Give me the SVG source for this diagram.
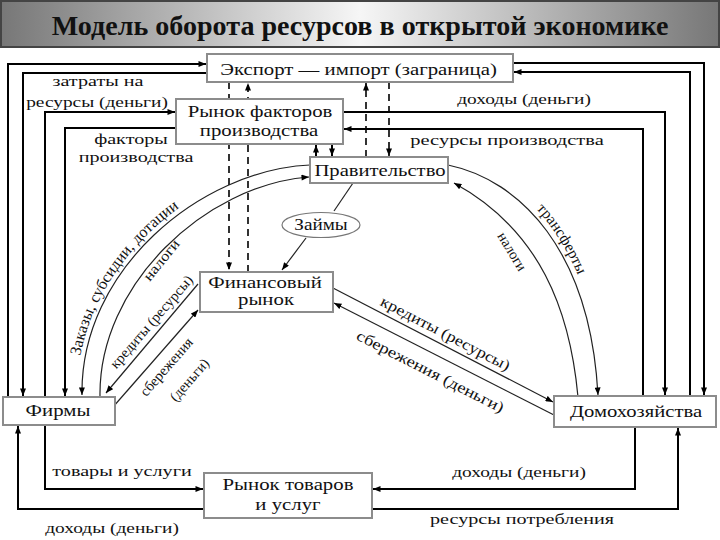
<svg xmlns="http://www.w3.org/2000/svg" width="720" height="540" viewBox="0 0 720 540">
<style>
.t{font-size:15.5px;text-anchor:middle}
.s{font-size:14.5px;text-anchor:middle}
.b{font-size:16px;text-anchor:middle}
.box{fill:#fff;stroke:#8c8c8c;stroke-width:2}
.ln{fill:none;stroke:#000;stroke-width:2}
.th{fill:none;stroke:#222;stroke-width:1.2}
.ds{fill:none;stroke:#000;stroke-width:1.6;stroke-dasharray:7 5}
</style>
<defs>
<linearGradient id="g" x1="0" x2="1" y1="0" y2="0"><stop offset="0" stop-color="#777"/><stop offset="0.5" stop-color="#f6f6f6"/><stop offset="1" stop-color="#777"/></linearGradient>
<marker id="a" viewBox="0 0 10 8" refX="10" refY="4" markerWidth="8" markerHeight="6" markerUnits="userSpaceOnUse" orient="auto"><path d="M0,0 L10,4 L0,8 z" fill="#000"/></marker>
<path id="p1" d="M77,395 C75,268 198,164 310,160" fill="none"/>
<path id="p2" d="M452,160 C525,175 595,248 603,395" fill="none"/>
</defs>
<rect x="0" y="0" width="720" height="540" fill="#fff"/>
<g id="title" font-family="Liberation Serif, serif">
<rect x="1" y="1" width="718" height="46" fill="url(#g)" stroke="#444" stroke-width="2"/>
<text transform="translate(360,35) scale(1.04,1)" font-size="27" font-weight="bold" text-anchor="middle" fill="#111">Модель оборота ресурсов в открытой экономике</text>
</g>
<g id="connectors">
<path class="ln" d="M8,397 V64 H206" marker-end="url(#a)"/>
<path class="ln" d="M207,73 H23 V396" marker-end="url(#a)"/>
<path class="ln" d="M45,397 V112 H175" marker-end="url(#a)"/>
<path class="ln" d="M176,128 H65 V396" marker-end="url(#a)"/>
<path class="ln" d="M513,63 H704 V395" marker-end="url(#a)"/>
<path class="ln" d="M690,396 V72 H514" marker-end="url(#a)"/>
<path class="ln" d="M343,112 H665 V395" marker-end="url(#a)"/>
<path class="ln" d="M643,396 V129 H344" marker-end="url(#a)"/>
<path class="ln" d="M204,509 H18 V426" marker-end="url(#a)"/>
<path class="ln" d="M45,425 V489 H203" marker-end="url(#a)"/>
<path class="ln" d="M635,427 V489 H373" marker-end="url(#a)"/>
<path class="ln" d="M372,509 H678 V428" marker-end="url(#a)"/>
<path class="ds" stroke-width="2" d="M229,82 V270" marker-end="url(#a)"/>
<path class="ds" d="M248,272 V83" marker-end="url(#a)"/>
<path class="ds" d="M366,157 V83" marker-end="url(#a)"/>
<path class="ds" d="M389,82 V156" marker-end="url(#a)"/>
<path class="ln" stroke-width="1.5" d="M316,157 V145" marker-end="url(#a)"/>
<path class="ln" stroke-width="1.5" d="M332,144 V156" marker-end="url(#a)"/>
<path class="th" d="M310,165 C200,170 80,270 82,395" marker-end="url(#a)"/>
<path class="th" d="M100,397 C98,285 205,185 309,177" marker-end="url(#a)"/>
<path class="th" d="M448,165 C520,180 590,250 598,395" marker-end="url(#a)"/>
<path class="th" d="M578,397 C570,310 540,230 454,183" marker-end="url(#a)"/>
<path class="th" d="M198,284 L106,393" marker-end="url(#a)"/>
<path class="th" d="M113,407 L198,310" marker-end="url(#a)"/>
<path class="th" d="M333,288 L553,402" marker-end="url(#a)"/>
<path class="th" d="M554,415 L334,303" marker-end="url(#a)"/>
<path class="th" d="M353,183 L334,211"/>
<path class="th" d="M306,238 L282,270" marker-end="url(#a)"/>
</g>
<g id="labels" font-family="Liberation Serif, serif" fill="#111">
<text class="t" transform="translate(98,86) scale(1.3,1)">затраты на</text>
<text class="t" transform="translate(97,107) scale(1.25,1)">ресурсы (деньги)</text>
<text class="t" transform="translate(131,144) scale(1.3,1)">факторы</text>
<text class="t" transform="translate(136,162) scale(1.3,1)">производства</text>
<text class="t" transform="translate(524,104) scale(1.25,1)">доходы (деньги)</text>
<text class="t" transform="translate(507,145) scale(1.32,1)">ресурсы производства</text>
<text class="t" transform="translate(122,476) scale(1.3,1)">товары и услуги</text>
<text class="t" transform="translate(112,533) scale(1.25,1)">доходы (деньги)</text>
<text class="t" transform="translate(519,477) scale(1.25,1)">доходы (деньги)</text>
<text class="t" transform="translate(522,524) scale(1.3,1)">ресурсы потребления</text>
<text class="s" transform="translate(155,325) rotate(-49) scale(1.02,1)">кредиты (ресурсы)</text>
<text class="s" transform="translate(170,370) rotate(-49)">сбережения</text>
<text class="s" transform="translate(193,383) rotate(-49)">(деньги)</text>
<text class="s" transform="translate(165,263) rotate(-51) scale(1.15,1)">налоги</text>
<text class="s" transform="translate(508,254) rotate(59)">налоги</text>
<text class="t" transform="translate(443,338) rotate(27.5) scale(1.16,1)">кредиты (ресурсы)</text>
<text class="t" transform="translate(428,376) rotate(27) scale(1.2,1)">сбережения (деньги)</text>
<text font-size="16" text-anchor="middle"><textPath href="#p1" startOffset="36%">Заказы, субсидии, дотации</textPath></text>
<text font-size="15.5" text-anchor="middle"><textPath href="#p2" startOffset="46%">трансферты</textPath></text>
</g>
<g font-family="Liberation Serif, serif" fill="#111">
<g id="export">
<rect class="box" x="207" y="54" width="306" height="28"/>
<text class="b" transform="translate(358.5,75) scale(1.3,1)">Экспорт — импорт (заграница)</text>
</g>
<g id="factor-market">
<rect class="box" x="176" y="99" width="167" height="45"/>
<text class="b" transform="translate(260,117) scale(1.3,1)">Рынок факторов</text>
<text class="b" transform="translate(259,136) scale(1.3,1)">производства</text>
</g>
<g id="government">
<rect class="box" x="310" y="157" width="138" height="26" stroke="#222" stroke-width="1.5"/>
<text class="b" transform="translate(380,176) scale(1.29,1)">Правительство</text>
</g>
<g id="loans">
<ellipse cx="321" cy="225" rx="39" ry="12.5" fill="#fff" stroke="#777" stroke-width="1.2"/>
<text class="b" transform="translate(321,230) scale(1.2,1)">Займы</text>
</g>
<g id="financial-market">
<rect class="box" x="200" y="272" width="133" height="40" stroke-width="2.5"/>
<text class="b" transform="translate(265,288) scale(1.3,1)">Финансовый</text>
<text class="b" transform="translate(266,305) scale(1.3,1)">рынок</text>
</g>
<g id="firms">
<rect class="box" x="3" y="397" width="112" height="28"/>
<text class="b" transform="translate(58,416) scale(1.3,1)">Фирмы</text>
</g>
<g id="households">
<rect class="box" x="554" y="396" width="162" height="31" stroke="#444"/>
<text class="b" transform="translate(636,417) scale(1.29,1)">Домохозяйства</text>
</g>
<g id="goods-market">
<rect class="box" x="204" y="473" width="168" height="45"/>
<text class="b" transform="translate(288,490) scale(1.3,1)">Рынок товаров</text>
<text class="b" transform="translate(288,510) scale(1.3,1)">и услуг</text>
</g>
</g>
</svg>
